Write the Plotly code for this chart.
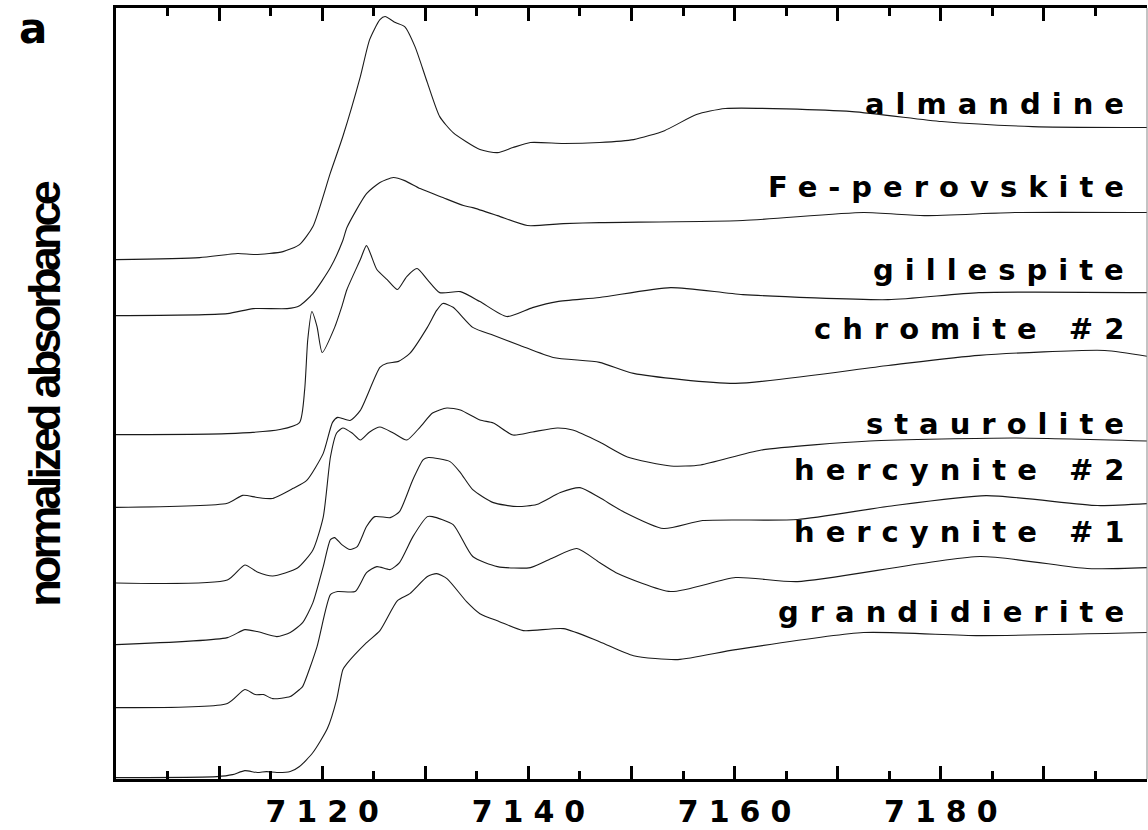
import plotly.graph_objects as go

# ---- data: energy (eV) and normalized absorbance ----
ALM_E = [7100.0, 7108.1, 7111.8, 7113.5, 7116.2, 7117.8, 7119.1, 7120.8, 7122.0, 7123.7, 7124.6, 7125.6, 7126.1,
         7127.1, 7128.0, 7129.0, 7130.2, 7131.4, 7132.7, 7135.3, 7137.0, 7138.5, 7140.2, 7143.4, 7146.9, 7150.2,
         7153.2, 7156.3, 7159.1, 7171.4, 7180.1, 7188.9, 7200.0]
ALM_A = [0.0, 0.014, 0.043, 0.036, 0.057, 0.107, 0.236, 0.621, 0.879, 1.307, 1.571, 1.714, 1.736,
         1.693, 1.664, 1.521, 1.264, 1.021, 0.907, 0.786, 0.764, 0.800, 0.836, 0.829, 0.836, 0.857,
         0.921, 1.036, 1.079, 1.057, 0.986, 0.950, 0.943]

FEP_E = [7100.0, 7110.8, 7113.3, 7116.6, 7117.8, 7119.1, 7120.8, 7122.0, 7122.4, 7124.3, 7125.6, 7126.9, 7128.0,
         7129.5, 7131.7, 7133.7, 7134.6, 7137.0, 7139.9, 7143.4, 7146.9, 7160.8, 7172.5, 7178.4, 7187.2, 7200.0]
FEP_A = [0.0, 0.014, 0.05, 0.05, 0.071, 0.157, 0.343, 0.536, 0.629, 0.871, 0.950, 0.986, 0.964,
         0.907, 0.843, 0.786, 0.771, 0.714, 0.643, 0.657, 0.664, 0.679, 0.736, 0.714, 0.736, 0.736]

GIL_E = [7100.0, 7110.8, 7115.9, 7117.8, 7118.3, 7118.6, 7119.0, 7119.5, 7120.0, 7121.2, 7121.9, 7122.4, 7123.7,
         7124.3, 7125.3, 7126.3, 7127.3, 7128.2, 7129.2, 7130.2, 7131.4, 7133.4, 7135.3, 7137.9, 7140.4, 7142.8,
         7146.9, 7153.8, 7160.8, 7174.9, 7183.7, 7200.0]
GIL_A = [0.0, 0.007, 0.036, 0.086, 0.321, 0.679, 0.879, 0.771, 0.586, 0.764, 0.914, 1.036, 1.25,
         1.35, 1.179, 1.107, 1.036, 1.129, 1.186, 1.107, 1.014, 1.021, 0.95, 0.843, 0.907, 0.95,
         0.979, 1.05, 1.0, 0.964, 1.014, 1.014]

CHR_E = [7100.0, 7110.8, 7112.3, 7113.7, 7115.2, 7117.2, 7118.5, 7120.1, 7121.0, 7121.5, 7122.7, 7123.7, 7125.6,
         7126.3, 7127.4, 7128.5, 7130.2, 7131.1, 7131.7, 7132.7, 7134.6, 7136.6, 7139.2, 7142.4, 7146.9, 7150.2,
         7160.1, 7174.9, 7183.7, 7195.9, 7200.0]
CHR_A = [0.0, 0.029, 0.086, 0.071, 0.064, 0.136, 0.193, 0.386, 0.607, 0.643, 0.621, 0.693, 1.0,
         1.029, 1.043, 1.1, 1.286, 1.407, 1.457, 1.429, 1.286, 1.229, 1.157, 1.071, 1.036, 0.957,
         0.886, 1.014, 1.086, 1.121, 1.079]

STA_E = [7100.0, 7110.8, 7112.5, 7113.7, 7115.2, 7117.6, 7119.1, 7120.1, 7120.8, 7121.4, 7122.0, 7122.9, 7123.7,
         7124.6, 7125.6, 7126.9, 7128.2, 7129.5, 7130.7, 7132.1, 7133.4, 7135.3, 7136.6, 7138.5, 7140.4, 7142.8,
         7144.3, 7146.9, 7149.6, 7153.8, 7156.7, 7162.6, 7173.1, 7187.2, 7200.0]
STA_A = [0.0, 0.021, 0.129, 0.079, 0.05, 0.107, 0.236, 0.471, 0.9, 1.071, 1.107, 1.071, 1.021,
         1.079, 1.114, 1.071, 1.021, 1.114, 1.214, 1.25, 1.236, 1.164, 1.143, 1.057, 1.079, 1.107,
         1.093, 1.007, 0.9, 0.836, 0.843, 0.95, 1.014, 1.036, 1.014]

HE2_E = [7100.0, 7110.8, 7112.5, 7113.7, 7115.6, 7116.9, 7118.1, 7119.1, 7120.1, 7120.8, 7121.2, 7121.9, 7122.7,
         7123.4, 7124.3, 7125.1, 7126.6, 7127.5, 7128.8, 7129.8, 7130.3, 7132.4, 7133.4, 7134.6, 7136.6, 7138.9,
         7140.8, 7143.1, 7145.0, 7146.9, 7149.2, 7153.1, 7156.9, 7166.1, 7174.8, 7184.4, 7195.2, 7200.0]
HE2_A = [0.0, 0.05, 0.107, 0.093, 0.057, 0.086, 0.157, 0.3, 0.557, 0.75, 0.764, 0.714, 0.679,
         0.7, 0.843, 0.914, 0.907, 0.95, 1.179, 1.321, 1.336, 1.307, 1.229, 1.107, 1.014, 0.986,
         1.0, 1.086, 1.121, 1.05, 0.95, 0.829, 0.886, 0.893, 0.986, 1.064, 0.993, 1.007]

HE1_E = [7100.0, 7110.8, 7112.5, 7113.5, 7114.3, 7115.2, 7116.9, 7117.8, 7118.1, 7119.5, 7120.8, 7121.5, 7123.2,
         7124.3, 7125.3, 7126.6, 7127.5, 7128.8, 7130.2, 7130.7, 7132.7, 7134.6, 7137.0, 7140.2, 7142.4, 7144.7,
         7146.9, 7148.5, 7153.8, 7160.1, 7166.1, 7183.8, 7194.2, 7200.0]
HE1_A = [0.0, 0.029, 0.129, 0.093, 0.093, 0.064, 0.079, 0.129, 0.15, 0.436, 0.807, 0.829, 0.829,
         0.964, 1.007, 0.986, 1.036, 1.221, 1.364, 1.364, 1.307, 1.079, 1.007, 1.0, 1.071, 1.136,
         1.036, 0.964, 0.829, 0.929, 0.9, 1.079, 0.993, 1.0]

GRA_E = [7100.0, 7109.8, 7111.3, 7112.5, 7113.7, 7114.6, 7115.6, 7116.9, 7117.8, 7119.1, 7120.5, 7121.4, 7122.0,
         7122.4, 7124.3, 7125.6, 7127.3, 7128.5, 7130.2, 7131.1, 7132.1, 7134.0, 7135.3, 7137.2, 7139.5, 7143.4,
         7146.9, 7150.2, 7154.5, 7160.1, 7172.5, 7183.7, 7200.0]
GRA_A = [0.0, 0.007, 0.021, 0.05, 0.036, 0.043, 0.036, 0.043, 0.079, 0.179, 0.35, 0.557, 0.771,
         0.814, 0.964, 1.05, 1.264, 1.314, 1.436, 1.457, 1.421, 1.257, 1.171, 1.114, 1.05, 1.064,
         0.971, 0.871, 0.843, 0.914, 1.036, 1.014, 1.036]

NAMES = ["almandine", "Fe-perovskite", "gillespite", "chromite #2",
         "staurolite", "hercynite #2", "hercynite #1", "grandidierite"]
ENERGIES = [ALM_E, FEP_E, GIL_E, CHR_E, STA_E, HE2_E, HE1_E, GRA_E]
ABSORBANCE = [ALM_A, FEP_A, GIL_A, CHR_A, STA_A, HE2_A, HE1_A, GRA_A]
OFFSETS = [3.71, 3.31, 2.46, 1.94, 1.40, 0.96, 0.51, 0.01]
LABEL_Y = [4.824, 4.231, 3.639, 3.217, 2.539, 2.21, 1.767, 1.196]

X_TICKS = [7100, 7110, 7120, 7130, 7140, 7150, 7160, 7170, 7180, 7190, 7200]
X_TICK_LABELS = ["", "", "7120", "", "7140", "", "7160", "", "7180", "", ""]
X_MINOR = [7105, 7115, 7125, 7135, 7145, 7155, 7165, 7175, 7185, 7195]


def spaced(s, ls):
    if not s:
        return s
    return f'<span style="letter-spacing:{ls}px">{s[:-1]}</span>{s[-1]}'


fig = go.Figure()
for e, a, off, name in zip(ENERGIES, ABSORBANCE, OFFSETS, NAMES):
    fig.add_trace(go.Scatter(
        x=e, y=[v + off for v in a], mode="lines", name=name,
        line=dict(color="#1a1a1a", width=1.1, shape="spline", smoothing=0.6),
        hoverinfo="skip"))

for name, ly in zip(NAMES, LABEL_Y):
    fig.add_annotation(x=7197.96, y=ly, xref="x", yref="y", text=spaced(name, 11),
                       showarrow=False, xanchor="right", yanchor="middle",
                       font=dict(family="DejaVu Sans", size=29, color="black", weight="bold"))

fig.add_annotation(x=-0.0805, y=0.974, xref="paper", yref="paper", text="a", showarrow=False,
                   xanchor="center", yanchor="middle",
                   font=dict(family="DejaVu Sans", size=42, color="black", weight="bold"))

fig.add_shape(type="line", xref="paper", yref="paper", x0=1, x1=1, y0=0, y1=1,
              line=dict(color="#888888", width=1))

fig.update_layout(
    width=1148, height=830,
    margin=dict(l=116, r=1, t=8, b=51),
    plot_bgcolor="white", paper_bgcolor="white",
    showlegend=False,
    xaxis=dict(
        range=[7100, 7200], showgrid=False, zeroline=False,
        showline=True, linecolor="black", linewidth=3, mirror="ticks",
        ticks="inside", ticklen=13, tickwidth=3, tickcolor="black",
        tickmode="array", tickvals=X_TICKS, ticktext=[spaced(t, 10) for t in X_TICK_LABELS],
        tickfont=dict(family="DejaVu Sans", size=30, color="black", weight="bold"),
        ticklabelstandoff=4,
        minor=dict(tickmode="array", tickvals=X_MINOR, ticks="inside", ticklen=8,
                   tickwidth=3, tickcolor="black"),
        automargin=False,
    ),
    yaxis=dict(
        range=[0, 5.507], showgrid=False, zeroline=False,
        showline=True, linecolor="black", linewidth=3, mirror=False,
        ticks="", showticklabels=False, automargin=False,
        title=dict(text=spaced("normalized absorbance", -3.8), standoff=39,
                   font=dict(family="Liberation Sans, Arial", size=45, color="black", weight="bold")),
    ),
)

fig.write_html("out.html")
